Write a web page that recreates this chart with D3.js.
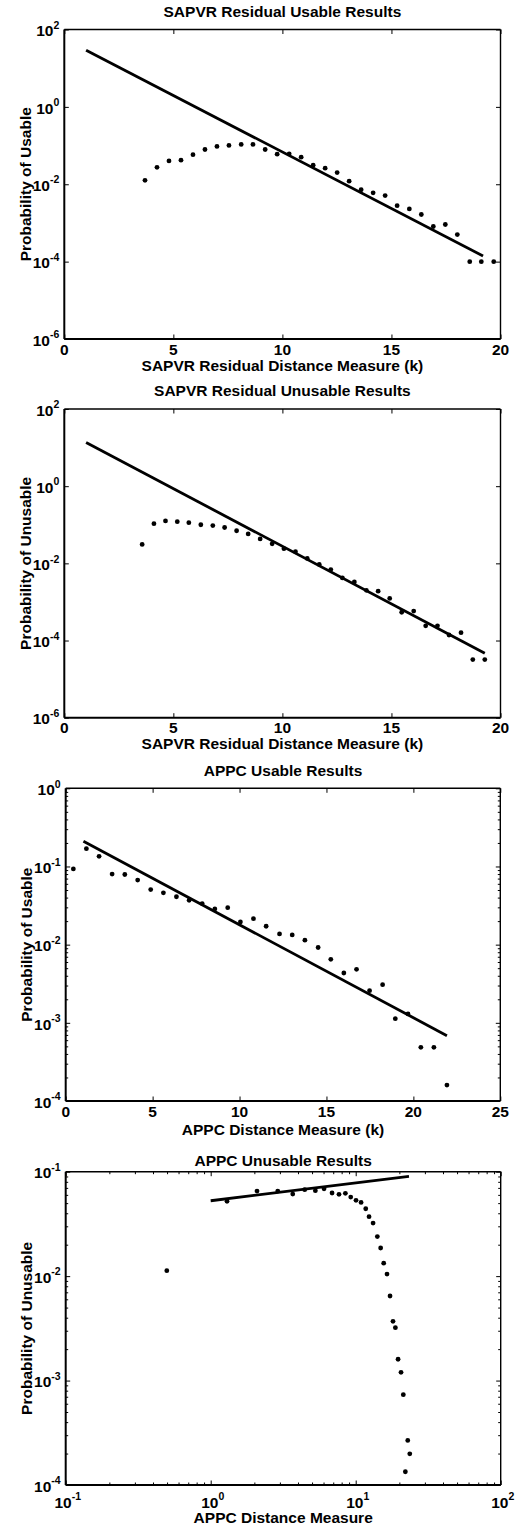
<!DOCTYPE html>
<html>
<head>
<meta charset="utf-8">
<script src="https://cdn.jsdelivr.net/npm/d3@7"></script>
<style>
  body { margin: 0; background: #fff; }
  svg text { font-family: "Liberation Sans", Arial, sans-serif; font-weight: bold; fill: #000; }
</style>
</head>
<body>
<script>
// ---- data ----
// panel 1 : SAPVR residual usable
var p1X = [3.70, 4.25, 4.80, 5.35, 5.90, 6.45, 7.00, 7.55, 8.11, 8.65, 9.21, 9.76, 10.31, 10.86, 11.41,
           11.96, 12.51, 13.06, 13.61, 14.16, 14.71, 15.26, 15.82, 16.37, 16.92, 17.47, 18.02, 18.59, 19.12, 19.69];
var p1Y = [0.0126, 0.0274, 0.040, 0.042, 0.058, 0.079, 0.095, 0.101, 0.107, 0.107, 0.079, 0.060, 0.061, 0.050, 0.031,
           0.026, 0.020, 0.012, 0.0072, 0.0060, 0.0051, 0.0028, 0.0023, 0.00165, 0.00081, 0.00091, 0.00050, 1.0e-4, 1.0e-4, 1.0e-4];
var p1FitX = [1.0, 19.2];
var p1FitY = [29, 1.4e-4];

// panel 2 : SAPVR residual unusable
var p2X = [3.57, 4.11, 4.64, 5.18, 5.71, 6.26, 6.81, 7.35, 7.90, 8.43, 8.98, 9.53, 10.07, 10.60, 11.14,
           11.69, 12.22, 12.75, 13.30, 13.85, 14.39, 14.92, 15.47, 16.02, 16.57, 17.11, 17.64, 18.19, 18.73, 19.28];
var p2Y = [0.031, 0.107, 0.126, 0.12, 0.113, 0.100, 0.095, 0.085, 0.070, 0.058, 0.043, 0.032, 0.024, 0.020, 0.0134,
           0.0094, 0.0069, 0.0042, 0.0033, 0.0020, 0.0019, 0.00123, 0.00054, 0.00058, 0.00024, 0.00024, 0.000139, 0.00016, 3.2e-5, 3.2e-5];
var p2FitX = [1.0, 19.28];
var p2FitY = [13.5, 4.7e-5];

// panel 3 : APPC usable
var p3X = [0.44, 1.19, 1.92, 2.67, 3.40, 4.14, 4.89, 5.62, 6.37, 7.10, 7.85, 8.58, 9.32, 10.05, 10.80,
           11.53, 12.30, 13.03, 13.76, 14.52, 15.25, 16.00, 16.73, 17.48, 18.23, 18.96, 19.69, 20.43, 21.18, 21.93];
var p3Y = [0.093, 0.169, 0.135, 0.080, 0.079, 0.067, 0.0506, 0.046, 0.041, 0.037, 0.0335, 0.0286, 0.0297, 0.0195, 0.0215,
           0.0172, 0.0137, 0.0133, 0.0114, 0.0092, 0.0065, 0.00434, 0.00483, 0.00258, 0.00308, 0.00113, 0.0013, 0.000486, 0.000486, 0.00016];
var p3FitX = [1.02, 21.93];
var p3FitY = [0.21, 6.85e-4];

// panel 4 : APPC unusable (log-log)
var p4X = [0.498, 1.296, 2.087, 2.90, 3.68, 4.45, 5.27, 6.05, 6.87, 7.67, 8.49, 9.24, 10.05, 10.89, 11.73,
           12.36, 13.18, 14.1, 14.86, 15.6, 16.44, 17.25, 18.08, 18.78, 19.6, 20.54, 21.3, 22.85, 23.6, 22.0];
var p4Y = [0.01127, 0.052, 0.0653, 0.0653, 0.0611, 0.0673, 0.0658, 0.0687, 0.0625, 0.0607, 0.0621, 0.0572, 0.0532, 0.0508, 0.0442,
           0.0371, 0.0322, 0.0239, 0.0186, 0.0133, 0.01047, 0.00645, 0.00369, 0.00321, 0.00160, 0.0012, 0.000733, 0.000267, 0.000199, 0.000134];
var p4FitX = [1.0, 23.3];
var p4FitY = [0.0527, 0.0902];

var titles = ["SAPVR Residual Usable Results", "SAPVR Residual Unusable Results", "APPC Usable Results", "APPC Unusable Results"];
var xLabels = ["SAPVR Residual Distance Measure (k)", "SAPVR Residual Distance Measure (k)", "APPC Distance Measure (k)", "APPC Distance Measure"];
var yLabels = ["Probability of Usable", "Probability of Unusable", "Probability of Usable", "Probability of Unusable"];

var linTicks20 = [0, 5, 10, 15, 20];
var linTicks25 = [0, 5, 10, 15, 20, 25];
var expTicks1 = [-6, -4, -2, 0, 2];
var expTicks3 = [-4, -3, -2, -1, 0];
var expTicks4y = [-4, -3, -2, -1];
var expTicks4x = [-1, 0, 1, 2];

// ---- layout ----
var panels = [
  {x: p1X, y: p1Y, fx: p1FitX, fy: p1FitY, left: 64.3, right: 500.5, top: 29.5, bottom: 339,
   xlog: false, xdom: [0, 20], xt: linTicks20, ydom: [1e-6, 1e2], yt: expTicks1, yMinor: false,
   titleY: 16.5, tickY: 16, labY: 371, ylabX: 30.5},
  {x: p2X, y: p2Y, fx: p2FitX, fy: p2FitY, left: 64.3, right: 500.5, top: 409, bottom: 717.7,
   xlog: false, xdom: [0, 20], xt: linTicks20, ydom: [1e-6, 1e2], yt: expTicks1, yMinor: false,
   titleY: 396, tickY: 15.5, labY: 749, ylabX: 30.5},
  {x: p3X, y: p3Y, fx: p3FitX, fy: p3FitY, left: 65.7, right: 500.3, top: 788.3, bottom: 1101,
   xlog: false, xdom: [0, 25], xt: linTicks25, ydom: [1e-4, 1], yt: expTicks3, yMinor: true,
   titleY: 776, tickY: 15.5, labY: 1135, ylabX: 32},
  {x: p4X, y: p4Y, fx: p4FitX, fy: p4FitY, left: 65.7, right: 500.7, top: 1171.7, bottom: 1485,
   xlog: true, xdom: [0.1, 100], xt: expTicks4x, ydom: [1e-4, 0.1], yt: expTicks4y, yMinor: true,
   titleY: 1166, tickY: 22.5, labY: 1523, ylabX: 32}
];

var W = 531, H = 1526;
var FS = 15.5, SUP = 10.5, MAJ = 4.5, MIN = 2.5;

var svg = d3.select("body").append("svg")
  .attr("width", W)
  .attr("height", H);

// label "10" with superscript exponent
function powLabel(sel, e) {
  sel.append("tspan").text("10");
  sel.append("tspan").attr("dy", -7.5).style("font-size", SUP + "px").text(e);
}

panels.forEach(function (p, i) {
  var x = p.xlog ? d3.scaleLog() : d3.scaleLinear();
  x.domain(p.xdom).range([p.left, p.right]);
  var y = d3.scaleLog().domain(p.ydom).range([p.bottom, p.top]);

  var g = svg.append("g");

  // tick marks (inward) on all four sides
  var yMajor = p.yt.map(function (e) { return Math.pow(10, e); });
  var yMinorVals = p.yMinor ? y.ticks().filter(function (v) {
    var l = Math.log10(v); return Math.abs(l - Math.round(l)) > 1e-6;
  }) : [];
  var xMajor = p.xlog ? p.xt.map(function (e) { return Math.pow(10, e); }) : p.xt;
  var xMinorVals = p.xlog ? x.ticks().filter(function (v) {
    var l = Math.log10(v); return Math.abs(l - Math.round(l)) > 1e-6;
  }) : [];

  function tickLayer(axisFn, scale, vals, len, tx, ty) {
    var a = axisFn(scale).tickValues(vals).tickSizeInner(-len).tickSizeOuter(0).tickFormat("");
    var t = g.append("g").attr("transform", "translate(" + tx + "," + ty + ")").call(a);
    t.select(".domain").remove();
    t.selectAll("line").attr("stroke", "#000").attr("stroke-width", 1);
  }
  tickLayer(d3.axisLeft, y, yMajor, MAJ, p.left, 0);
  tickLayer(d3.axisRight, y, yMajor, MAJ, p.right, 0);
  tickLayer(d3.axisBottom, x, xMajor, MAJ, 0, p.bottom);
  tickLayer(d3.axisTop, x, xMajor, MAJ, 0, p.top);
  if (yMinorVals.length) {
    tickLayer(d3.axisLeft, y, yMinorVals, MIN, p.left, 0);
    tickLayer(d3.axisRight, y, yMinorVals, MIN, p.right, 0);
  }
  if (xMinorVals.length) {
    tickLayer(d3.axisBottom, x, xMinorVals, MIN, 0, p.bottom);
    tickLayer(d3.axisTop, x, xMinorVals, MIN, 0, p.top);
  }

  // box
  g.append("line").attr("x1", p.left).attr("x2", p.right).attr("y1", p.top).attr("y2", p.top)
    .attr("stroke", "#000").attr("stroke-width", 1.4);
  g.append("line").attr("x1", p.right).attr("x2", p.right).attr("y1", p.top).attr("y2", p.bottom)
    .attr("stroke", "#000").attr("stroke-width", 1.4);
  g.append("line").attr("x1", p.left).attr("x2", p.right).attr("y1", p.bottom).attr("y2", p.bottom)
    .attr("stroke", "#000").attr("stroke-width", 2);
  g.append("line").attr("x1", p.left).attr("x2", p.left).attr("y1", p.top).attr("y2", p.bottom)
    .attr("stroke", "#000").attr("stroke-width", 2);

  // y tick labels
  p.yt.forEach(function (e) {
    var t = g.append("text")
      .attr("x", p.left - 5)
      .attr("y", y(Math.pow(10, e)) + 6.7)
      .attr("text-anchor", "end")
      .style("font-size", FS + "px");
    powLabel(t, e);
  });

  // x tick labels
  p.xt.forEach(function (v) {
    var t = g.append("text")
      .attr("y", p.bottom + p.tickY)
      .attr("text-anchor", "middle")
      .style("font-size", FS + "px");
    if (p.xlog) {
      t.attr("x", x(Math.pow(10, v)) + 2);
      powLabel(t, v);
    } else {
      t.attr("x", x(v)).text(v);
    }
  });

  // title and axis labels
  var cx = (p.left + p.right) / 2;
  g.append("text").attr("x", cx).attr("y", p.titleY).attr("text-anchor", "middle")
    .style("font-size", FS + "px").text(titles[i]);
  g.append("text").attr("x", cx).attr("y", p.labY).attr("text-anchor", "middle")
    .style("font-size", FS + "px").text(xLabels[i]);
  g.append("text")
    .attr("transform", "translate(" + p.ylabX + "," + ((p.top + p.bottom) / 2) + ") rotate(-90)")
    .attr("text-anchor", "middle")
    .style("font-size", FS + "px").text(yLabels[i]);

  // fit line
  var fit = p.fx.map(function (v, k) { return [v, p.fy[k]]; });
  g.append("path")
    .datum(fit)
    .attr("d", d3.line().x(function (d) { return x(d[0]); }).y(function (d) { return y(d[1]); }))
    .attr("fill", "none")
    .attr("stroke", "#000")
    .attr("stroke-width", 2.8);

  // data points
  var pts = p.x.map(function (v, k) { return [v, p.y[k]]; });
  g.selectAll("circle.pt")
    .data(pts)
    .enter()
    .append("circle")
    .attr("class", "pt")
    .attr("cx", function (d) { return x(d[0]); })
    .attr("cy", function (d) { return y(d[1]); })
    .attr("r", 2.4)
    .attr("fill", "#000");
});
</script>
</body>
</html>
